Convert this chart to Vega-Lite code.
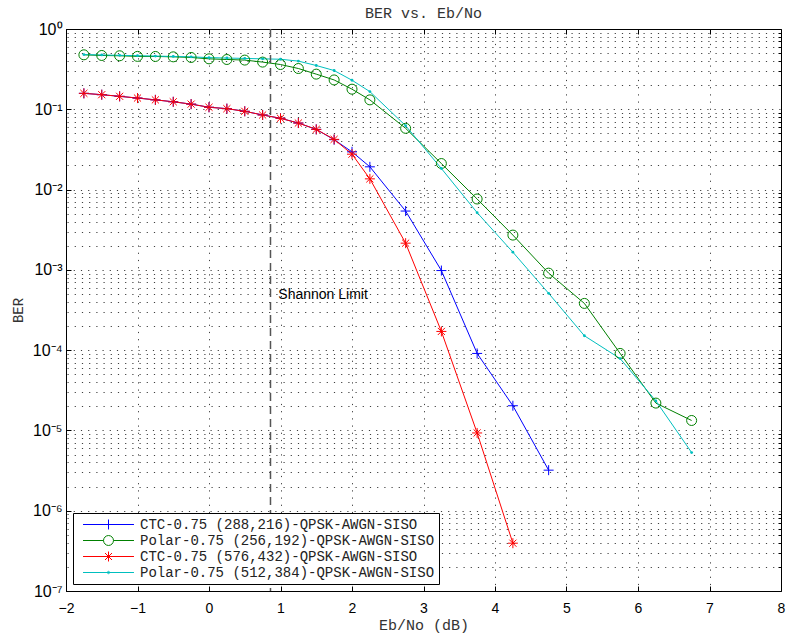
{
 "$schema": "https://vega.github.io/schema/vega-lite/v6.json",
 "width": 715, "height": 562,
 "autosize": {"type": "none"},
 "padding": {"left": 66, "top": 29, "right": 5, "bottom": 44},
 "background": "white",
 "title": {"text": "BER vs. Eb/No", "font": "Liberation Mono", "fontSize": 15, "fontWeight": "normal", "color": "#333", "offset": 0},
 "config": {"view": {"stroke": "black", "strokeWidth": 1}},
 "data": {"values": [
  {"s":"CTC-0.75 (288,216)-QPSK-AWGN-SISO","x":-1.75,"ber":0.158},
  {"s":"CTC-0.75 (288,216)-QPSK-AWGN-SISO","x":-1.5,"ber":0.152},
  {"s":"CTC-0.75 (288,216)-QPSK-AWGN-SISO","x":-1.25,"ber":0.145},
  {"s":"CTC-0.75 (288,216)-QPSK-AWGN-SISO","x":-1.0,"ber":0.138},
  {"s":"CTC-0.75 (288,216)-QPSK-AWGN-SISO","x":-0.75,"ber":0.131},
  {"s":"CTC-0.75 (288,216)-QPSK-AWGN-SISO","x":-0.5,"ber":0.124},
  {"s":"CTC-0.75 (288,216)-QPSK-AWGN-SISO","x":-0.25,"ber":0.116},
  {"s":"CTC-0.75 (288,216)-QPSK-AWGN-SISO","x":0.0,"ber":0.106},
  {"s":"CTC-0.75 (288,216)-QPSK-AWGN-SISO","x":0.25,"ber":0.102},
  {"s":"CTC-0.75 (288,216)-QPSK-AWGN-SISO","x":0.5,"ber":0.0944},
  {"s":"CTC-0.75 (288,216)-QPSK-AWGN-SISO","x":0.75,"ber":0.085},
  {"s":"CTC-0.75 (288,216)-QPSK-AWGN-SISO","x":1.0,"ber":0.0772},
  {"s":"CTC-0.75 (288,216)-QPSK-AWGN-SISO","x":1.25,"ber":0.0674},
  {"s":"CTC-0.75 (288,216)-QPSK-AWGN-SISO","x":1.5,"ber":0.0562},
  {"s":"CTC-0.75 (288,216)-QPSK-AWGN-SISO","x":1.75,"ber":0.0418},
  {"s":"CTC-0.75 (288,216)-QPSK-AWGN-SISO","x":2.0,"ber":0.0295},
  {"s":"CTC-0.75 (288,216)-QPSK-AWGN-SISO","x":2.25,"ber":0.0192},
  {"s":"CTC-0.75 (288,216)-QPSK-AWGN-SISO","x":2.75,"ber":0.0054},
  {"s":"CTC-0.75 (288,216)-QPSK-AWGN-SISO","x":3.25,"ber":0.00098},
  {"s":"CTC-0.75 (288,216)-QPSK-AWGN-SISO","x":3.75,"ber":0.000091},
  {"s":"CTC-0.75 (288,216)-QPSK-AWGN-SISO","x":4.25,"ber":0.0000203},
  {"s":"CTC-0.75 (288,216)-QPSK-AWGN-SISO","x":4.75,"ber":0.0000032},
  {"s":"Polar-0.75 (256,192)-QPSK-AWGN-SISO","x":-1.75,"ber":0.477},
  {"s":"Polar-0.75 (256,192)-QPSK-AWGN-SISO","x":-1.5,"ber":0.468},
  {"s":"Polar-0.75 (256,192)-QPSK-AWGN-SISO","x":-1.25,"ber":0.464},
  {"s":"Polar-0.75 (256,192)-QPSK-AWGN-SISO","x":-1.0,"ber":0.456},
  {"s":"Polar-0.75 (256,192)-QPSK-AWGN-SISO","x":-0.75,"ber":0.455},
  {"s":"Polar-0.75 (256,192)-QPSK-AWGN-SISO","x":-0.5,"ber":0.45},
  {"s":"Polar-0.75 (256,192)-QPSK-AWGN-SISO","x":-0.25,"ber":0.442},
  {"s":"Polar-0.75 (256,192)-QPSK-AWGN-SISO","x":0.0,"ber":0.425},
  {"s":"Polar-0.75 (256,192)-QPSK-AWGN-SISO","x":0.25,"ber":0.417},
  {"s":"Polar-0.75 (256,192)-QPSK-AWGN-SISO","x":0.5,"ber":0.41},
  {"s":"Polar-0.75 (256,192)-QPSK-AWGN-SISO","x":0.75,"ber":0.387},
  {"s":"Polar-0.75 (256,192)-QPSK-AWGN-SISO","x":1.0,"ber":0.361},
  {"s":"Polar-0.75 (256,192)-QPSK-AWGN-SISO","x":1.25,"ber":0.322},
  {"s":"Polar-0.75 (256,192)-QPSK-AWGN-SISO","x":1.5,"ber":0.274},
  {"s":"Polar-0.75 (256,192)-QPSK-AWGN-SISO","x":1.75,"ber":0.232},
  {"s":"Polar-0.75 (256,192)-QPSK-AWGN-SISO","x":2.0,"ber":0.178},
  {"s":"Polar-0.75 (256,192)-QPSK-AWGN-SISO","x":2.25,"ber":0.131},
  {"s":"Polar-0.75 (256,192)-QPSK-AWGN-SISO","x":2.75,"ber":0.0579},
  {"s":"Polar-0.75 (256,192)-QPSK-AWGN-SISO","x":3.25,"ber":0.0211},
  {"s":"Polar-0.75 (256,192)-QPSK-AWGN-SISO","x":3.75,"ber":0.00763},
  {"s":"Polar-0.75 (256,192)-QPSK-AWGN-SISO","x":4.25,"ber":0.00271},
  {"s":"Polar-0.75 (256,192)-QPSK-AWGN-SISO","x":4.75,"ber":0.00091},
  {"s":"Polar-0.75 (256,192)-QPSK-AWGN-SISO","x":5.25,"ber":0.000382},
  {"s":"Polar-0.75 (256,192)-QPSK-AWGN-SISO","x":5.75,"ber":0.000091},
  {"s":"Polar-0.75 (256,192)-QPSK-AWGN-SISO","x":6.25,"ber":0.0000219},
  {"s":"Polar-0.75 (256,192)-QPSK-AWGN-SISO","x":6.75,"ber":0.0000133},
  {"s":"CTC-0.75 (576,432)-QPSK-AWGN-SISO","x":-1.75,"ber":0.158},
  {"s":"CTC-0.75 (576,432)-QPSK-AWGN-SISO","x":-1.5,"ber":0.152},
  {"s":"CTC-0.75 (576,432)-QPSK-AWGN-SISO","x":-1.25,"ber":0.145},
  {"s":"CTC-0.75 (576,432)-QPSK-AWGN-SISO","x":-1.0,"ber":0.138},
  {"s":"CTC-0.75 (576,432)-QPSK-AWGN-SISO","x":-0.75,"ber":0.131},
  {"s":"CTC-0.75 (576,432)-QPSK-AWGN-SISO","x":-0.5,"ber":0.124},
  {"s":"CTC-0.75 (576,432)-QPSK-AWGN-SISO","x":-0.25,"ber":0.116},
  {"s":"CTC-0.75 (576,432)-QPSK-AWGN-SISO","x":0.0,"ber":0.106},
  {"s":"CTC-0.75 (576,432)-QPSK-AWGN-SISO","x":0.25,"ber":0.1017},
  {"s":"CTC-0.75 (576,432)-QPSK-AWGN-SISO","x":0.5,"ber":0.0944},
  {"s":"CTC-0.75 (576,432)-QPSK-AWGN-SISO","x":0.75,"ber":0.0849},
  {"s":"CTC-0.75 (576,432)-QPSK-AWGN-SISO","x":1.0,"ber":0.0772},
  {"s":"CTC-0.75 (576,432)-QPSK-AWGN-SISO","x":1.25,"ber":0.0674},
  {"s":"CTC-0.75 (576,432)-QPSK-AWGN-SISO","x":1.5,"ber":0.0562},
  {"s":"CTC-0.75 (576,432)-QPSK-AWGN-SISO","x":1.75,"ber":0.0422},
  {"s":"CTC-0.75 (576,432)-QPSK-AWGN-SISO","x":2.0,"ber":0.0276},
  {"s":"CTC-0.75 (576,432)-QPSK-AWGN-SISO","x":2.25,"ber":0.0136},
  {"s":"CTC-0.75 (576,432)-QPSK-AWGN-SISO","x":2.75,"ber":0.00215},
  {"s":"CTC-0.75 (576,432)-QPSK-AWGN-SISO","x":3.25,"ber":0.000171},
  {"s":"CTC-0.75 (576,432)-QPSK-AWGN-SISO","x":3.75,"ber":0.0000093},
  {"s":"CTC-0.75 (576,432)-QPSK-AWGN-SISO","x":4.25,"ber":0.000000394},
  {"s":"Polar-0.75 (512,384)-QPSK-AWGN-SISO","x":-1.75,"ber":0.48},
  {"s":"Polar-0.75 (512,384)-QPSK-AWGN-SISO","x":-1.5,"ber":0.475},
  {"s":"Polar-0.75 (512,384)-QPSK-AWGN-SISO","x":-1.25,"ber":0.47},
  {"s":"Polar-0.75 (512,384)-QPSK-AWGN-SISO","x":-1.0,"ber":0.465},
  {"s":"Polar-0.75 (512,384)-QPSK-AWGN-SISO","x":-0.75,"ber":0.46},
  {"s":"Polar-0.75 (512,384)-QPSK-AWGN-SISO","x":-0.5,"ber":0.455},
  {"s":"Polar-0.75 (512,384)-QPSK-AWGN-SISO","x":-0.25,"ber":0.45},
  {"s":"Polar-0.75 (512,384)-QPSK-AWGN-SISO","x":0.0,"ber":0.44},
  {"s":"Polar-0.75 (512,384)-QPSK-AWGN-SISO","x":0.25,"ber":0.435},
  {"s":"Polar-0.75 (512,384)-QPSK-AWGN-SISO","x":0.5,"ber":0.43},
  {"s":"Polar-0.75 (512,384)-QPSK-AWGN-SISO","x":0.75,"ber":0.425},
  {"s":"Polar-0.75 (512,384)-QPSK-AWGN-SISO","x":1.0,"ber":0.42},
  {"s":"Polar-0.75 (512,384)-QPSK-AWGN-SISO","x":1.25,"ber":0.398},
  {"s":"Polar-0.75 (512,384)-QPSK-AWGN-SISO","x":1.5,"ber":0.351},
  {"s":"Polar-0.75 (512,384)-QPSK-AWGN-SISO","x":1.75,"ber":0.304},
  {"s":"Polar-0.75 (512,384)-QPSK-AWGN-SISO","x":2.0,"ber":0.23},
  {"s":"Polar-0.75 (512,384)-QPSK-AWGN-SISO","x":2.25,"ber":0.166},
  {"s":"Polar-0.75 (512,384)-QPSK-AWGN-SISO","x":2.75,"ber":0.0624},
  {"s":"Polar-0.75 (512,384)-QPSK-AWGN-SISO","x":3.25,"ber":0.0183},
  {"s":"Polar-0.75 (512,384)-QPSK-AWGN-SISO","x":3.75,"ber":0.00516},
  {"s":"Polar-0.75 (512,384)-QPSK-AWGN-SISO","x":4.25,"ber":0.00166},
  {"s":"Polar-0.75 (512,384)-QPSK-AWGN-SISO","x":4.75,"ber":0.00051},
  {"s":"Polar-0.75 (512,384)-QPSK-AWGN-SISO","x":5.25,"ber":0.000151},
  {"s":"Polar-0.75 (512,384)-QPSK-AWGN-SISO","x":5.75,"ber":0.0000785},
  {"s":"Polar-0.75 (512,384)-QPSK-AWGN-SISO","x":6.25,"ber":0.0000233},
  {"s":"Polar-0.75 (512,384)-QPSK-AWGN-SISO","x":6.75,"ber":0.0000053}
 ]},
 "layer": [
  {
   "mark": {"type": "line", "strokeWidth": 1},
   "encoding": {
    "x": {"field": "x", "type": "quantitative", "title": "Eb/No (dB)",
      "scale": {"domain": [-2, 8], "nice": false, "zero": false},
      "axis": {"orient": "bottom", "values": [-2,-1,0,1,2,3,4,5,6,7,8], "grid": true, "gridDash": [1.2,6], "gridColor": "#000", "gridOpacity": 0.75,
        "tickSize": -5, "tickColor": "black", "domain": false, "labelPadding": 15, "labelFont": "Liberation Sans", "labelFontSize": 14, "labelColor": "black",
        "titleFont": "Liberation Mono", "titleFontSize": 15, "titleFontWeight": "normal", "titleColor": "#333", "titlePadding": 2, "labelFlush": false}},
    "y": {"field": "ber", "type": "quantitative", "title": "BER",
      "scale": {"type": "log", "domain": [1e-7, 1], "nice": false},
      "axis": {"orient": "left", "values": [1e-7,1e-6,1e-5,1e-4,1e-3,1e-2,1e-1,1], "grid": true, "gridDash": [1.2,6], "gridColor": "#000", "gridOpacity": 0.75,
        "tickSize": -5, "tickColor": "black", "domain": false, "labelPadding": 9, "labelFont": "Liberation Sans", "labelFontSize": 16, "labelColor": "black",
        "labelExpr": "'10' + ['⁰','⁻¹','⁻²','⁻³','⁻⁴','⁻⁵','⁻⁶','⁻⁷'][round(-log(datum.value)/LN10)]",
        "titleFont": "Liberation Mono", "titleFontSize": 14, "titleFontWeight": "normal", "titleColor": "#333", "titlePadding": 7, "labelFlush": false}},
    "color": {"field": "s", "type": "nominal",
      "scale": {"domain": ["CTC-0.75 (288,216)-QPSK-AWGN-SISO","Polar-0.75 (256,192)-QPSK-AWGN-SISO","CTC-0.75 (576,432)-QPSK-AWGN-SISO","Polar-0.75 (512,384)-QPSK-AWGN-SISO"],
                "range": ["#0000ff","#008000","#ff0000","#00bfbf"]},
      "legend": {"orient": "bottom-left", "offset": 7, "padding": 4, "strokeColor": "black", "fillColor": "white", "title": null,
        "labelFont": "Liberation Mono", "labelFontSize": 14, "labelColor": "#222", "labelLimit": 500, "symbolSize": 196, "symbolStrokeWidth": 1,
        "symbolOffset": 24, "labelOffset": 24, "rowPadding": 1, "symbolType": "M-3.64,0H3.64",
        "encode": {"symbols": {"update": {"fill": {"value": "transparent"},
          "shape": {"signal": "datum.value === 'CTC-0.75 (288,216)-QPSK-AWGN-SISO' ? 'M-3.64,0H3.64M0,-0.71V0.71' : datum.value === 'Polar-0.75 (256,192)-QPSK-AWGN-SISO' ? 'M-3.64,0H-0.71M0.71,0H3.64M0.71,0A0.71,0.71 0 1,1 -0.71,0A0.71,0.71 0 1,1 0.71,0' : datum.value === 'CTC-0.75 (576,432)-QPSK-AWGN-SISO' ? 'M-3.64,0H3.64M0,-0.71V0.71M-0.5,-0.5L0.5,0.5M-0.5,0.5L0.5,-0.5' : 'M-3.64,0H3.64M0.17,0A0.17,0.17 0 1,1 -0.17,0A0.17,0.17 0 1,1 0.17,0'"}}}}}
    },
    "order": {"field": "x", "type": "quantitative"}
   }
  },
  {
   "transform": [{"filter": "datum.s === 'CTC-0.75 (288,216)-QPSK-AWGN-SISO'"}],
   "mark": {"type": "point", "filled": false, "strokeWidth": 1, "opacity": 1, "color": "#0000ff", "shape": "M-1,0H1M0,-1V1", "size": 100},
   "encoding": {
    "x": {"field": "x", "type": "quantitative",
      "axis": {"orient": "top", "values": [-2,-1,0,1,2,3,4,5,6,7,8], "grid": false, "labels": false, "title": null, "domain": false, "tickSize": -5, "tickColor": "black"}},
    "y": {"field": "ber", "type": "quantitative",
      "axis": {"orient": "right", "values": [2e-7,3e-7,4e-7,5e-7,6e-7,7e-7,8e-7,9e-7,2e-6,3e-6,4e-6,5e-6,6e-6,7e-6,8e-6,9e-6,2e-5,3e-5,4e-5,5e-5,6e-5,7e-5,8e-5,9e-5,2e-4,3e-4,4e-4,5e-4,6e-4,7e-4,8e-4,9e-4,2e-3,3e-3,4e-3,5e-3,6e-3,7e-3,8e-3,9e-3,0.02,0.03,0.04,0.05,0.06,0.07,0.08,0.09,0.2,0.3,0.4,0.5,0.6,0.7,0.8,0.9],
        "grid": true, "gridDash": [1.2,6], "gridColor": "#000", "gridOpacity": 0.75, "labels": false, "title": null, "domain": false, "tickSize": -3, "tickColor": "black"}}
   }
  },
  {
   "transform": [{"filter": "datum.s === 'Polar-0.75 (256,192)-QPSK-AWGN-SISO'"}],
   "mark": {"type": "point", "filled": false, "strokeWidth": 1, "opacity": 1, "color": "#008000", "shape": "circle", "size": 100},
   "encoding": {
    "x": {"field": "x", "type": "quantitative", "axis": null},
    "y": {"field": "ber", "type": "quantitative", "axis": null}
   }
  },
  {
   "transform": [{"filter": "datum.s === 'CTC-0.75 (576,432)-QPSK-AWGN-SISO'"}],
   "mark": {"type": "point", "filled": false, "strokeWidth": 1, "opacity": 1, "color": "#ff0000", "shape": "M-1,0H1M0,-1V1M-0.71,-0.71L0.71,0.71M-0.71,0.71L0.71,-0.71", "size": 100},
   "encoding": {
    "x": {"field": "x", "type": "quantitative", "axis": null},
    "y": {"field": "ber", "type": "quantitative", "axis": null}
   }
  },
  {
   "transform": [{"filter": "datum.s === 'Polar-0.75 (512,384)-QPSK-AWGN-SISO'"}],
   "mark": {"type": "point", "filled": true, "opacity": 1, "color": "#00bfbf", "shape": "circle", "size": 8},
   "encoding": {
    "x": {"field": "x", "type": "quantitative", "axis": null},
    "y": {"field": "ber", "type": "quantitative", "axis": null}
   }
  },
  {
   "data": {"values": [{"x": 0.86}]},
   "mark": {"type": "rule", "strokeDash": [8, 5], "color": "#555", "strokeWidth": 1.5},
   "encoding": {"x": {"field": "x", "type": "quantitative", "axis": null}}
  },
  {
   "data": {"values": [{"x": 0.97, "y": 0.00048, "label": "Shannon Limit"}]},
   "mark": {"type": "text", "align": "left", "baseline": "middle", "font": "Liberation Sans", "fontSize": 14, "color": "black"},
   "encoding": {
    "x": {"field": "x", "type": "quantitative", "axis": null},
    "y": {"field": "y", "type": "quantitative", "axis": null},
    "text": {"field": "label"}
   }
  }
 ],
 "resolve": {"axis": {"x": "independent", "y": "independent"}, "scale": {"x": "shared", "y": "shared"}}
}
